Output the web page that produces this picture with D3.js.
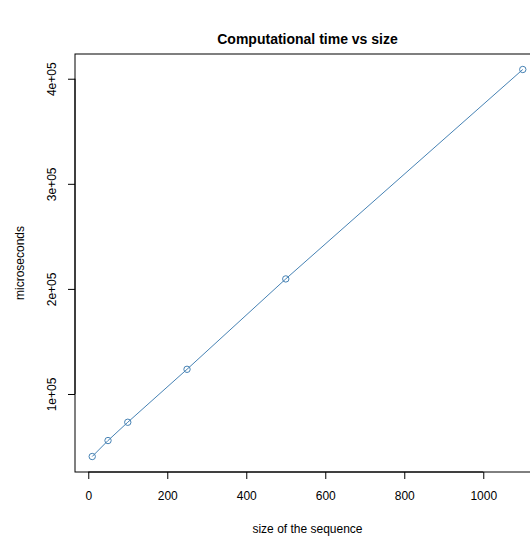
<!DOCTYPE html>
<html>
<head>
<meta charset="utf-8">
<script src="https://cdn.jsdelivr.net/npm/d3@7"></script>
<style>
  body { margin: 0; background: #fff; }
  svg { display: block; font-family: "Liberation Sans", Arial, sans-serif; }
</style>
</head>
<body>
<div id="chart"></div>
<script>
// Computational time vs size of the sequence (R base-graphics look)
const sizes = [10, 50, 100, 250, 500, 1100];
const micros = [40500, 55700, 73100, 123500, 209500, 408800];
const xTicks = [0, 200, 400, 600, 800, 1000];
const yTicks = [100000, 200000, 300000, 400000];
const yTickLabels = ["1e+05", "2e+05", "3e+05", "4e+05"];

const width = 530, height = 536;
// plot region (right side runs past the window, as in the reference)
const plot = { left: 75, right: 540, top: 54, bottom: 472 };

const data = sizes.map((s, i) => ({ size: s, us: micros[i] }));

// R-style 4% padding on the data range
const xr = d3.extent(sizes), yr = d3.extent(micros);
const xp = (xr[1] - xr[0]) * 0.04, yp = (yr[1] - yr[0]) * 0.04;

const x = d3.scaleLinear()
  .domain([xr[0] - xp, xr[1] + xp])
  .range([plot.left, plot.right]);

const y = d3.scaleLinear()
  .domain([yr[0] - yp, yr[1] + yp])
  .range([plot.bottom, plot.top]);

const svg = d3.select("#chart")
  .append("svg")
  .attr("width", width)
  .attr("height", height);

// title
svg.append("text")
  .attr("x", (plot.left + plot.right) / 2)
  .attr("y", 44)
  .attr("text-anchor", "middle")
  .style("font-size", "14px")
  .style("font-weight", "bold")
  .text("Computational time vs size");

// box
svg.append("rect")
  .attr("x", plot.left)
  .attr("y", plot.top)
  .attr("width", plot.right - plot.left)
  .attr("height", plot.bottom - plot.top)
  .attr("fill", "none")
  .attr("stroke", "#000")
  .attr("stroke-width", 1);

// x axis
const xAxis = svg.append("g")
  .attr("transform", `translate(0, ${plot.bottom})`)
  .call(d3.axisBottom(x).tickValues(xTicks).tickSize(7).tickPadding(12).tickSizeOuter(0)
    .tickFormat(d => String(d)));
xAxis.select(".domain")
  .attr("d", `M${x(xTicks[0])},0H${x(xTicks[xTicks.length - 1])}`);
xAxis.selectAll("text")
  .style("font-size", "12px")
  .style("font-family", "Liberation Sans, Arial, sans-serif")
  .attr("fill", "#000");

// y axis, labels rotated like R's default las=0
const yAxis = svg.append("g")
  .attr("transform", `translate(${plot.left}, 0)`)
  .call(d3.axisLeft(y).tickValues(yTicks).tickSize(7).tickSizeOuter(0)
    .tickFormat((d, i) => yTickLabels[i]));
yAxis.select(".domain")
  .attr("d", `M0,${y(yTicks[0])}V${y(yTicks[yTicks.length - 1])}`);
yAxis.selectAll(".tick text")
  .attr("x", null)
  .attr("dy", null)
  .attr("transform", "translate(-19, 0) rotate(-90)")
  .attr("text-anchor", "middle")
  .style("font-size", "12px")
  .style("font-family", "Liberation Sans, Arial, sans-serif")
  .attr("fill", "#000");

// axis titles
svg.append("text")
  .attr("x", (plot.left + plot.right) / 2)
  .attr("y", 533)
  .attr("text-anchor", "middle")
  .style("font-size", "12px")
  .text("size of the sequence");

svg.append("text")
  .attr("transform", `translate(24, ${(plot.top + plot.bottom) / 2}) rotate(-90)`)
  .attr("text-anchor", "middle")
  .style("font-size", "12px")
  .text("microseconds");

// line + open circles
const line = d3.line()
  .x(d => x(d.size))
  .y(d => y(d.us));

svg.append("path")
  .datum(data)
  .attr("fill", "none")
  .attr("stroke", "#4682B4")
  .attr("stroke-width", 1)
  .attr("d", line);

svg.selectAll(".pt")
  .data(data)
  .join("circle")
  .attr("class", "pt")
  .attr("cx", d => x(d.size))
  .attr("cy", d => y(d.us))
  .attr("r", 3.2)
  .attr("fill", "none")
  .attr("stroke", "#4682B4")
  .attr("stroke-width", 1);
</script>
</body>
</html>
